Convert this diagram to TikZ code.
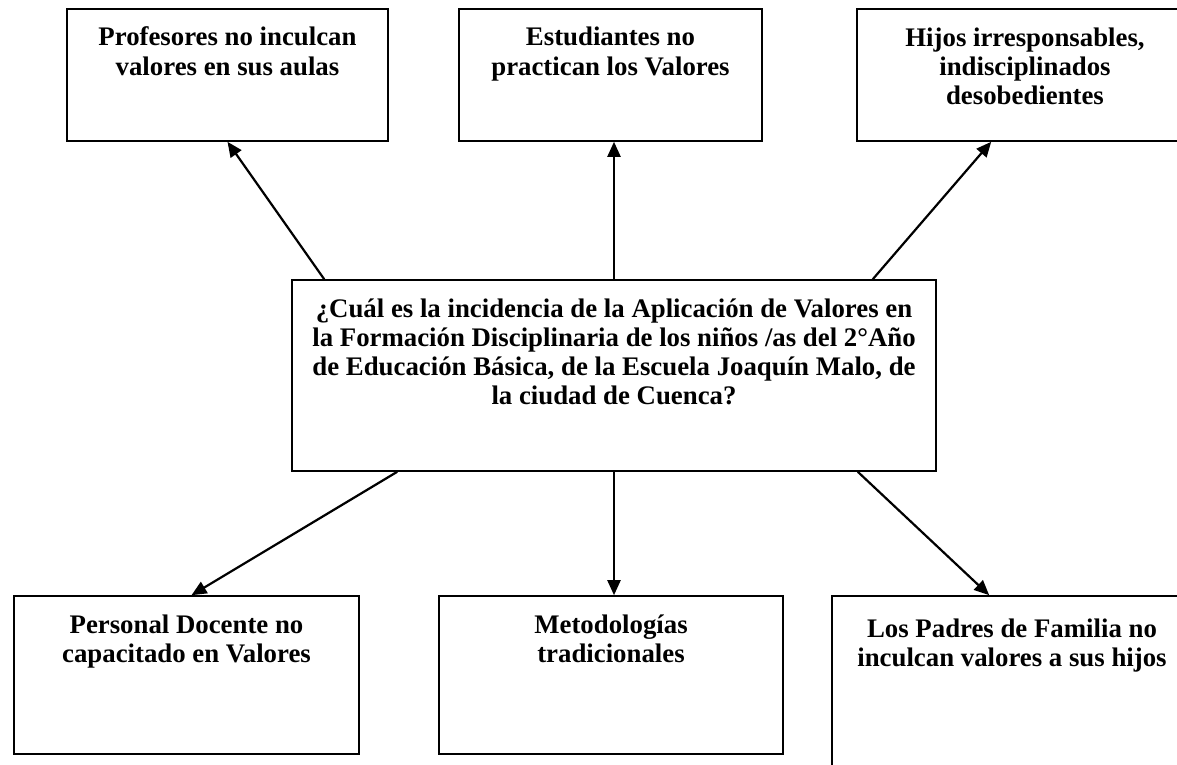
\documentclass[tikz,border=0pt]{standalone}
\usepackage{fontspec}
\setmainfont{Liberation Serif}
\usetikzlibrary{arrows.meta}
\newcommand\boxtxt[5]{\parbox[c][#2][t]{#1}{\fontsize{26.8}{#4}\selectfont\bfseries\centering\rule{0pt}{#3}#5\par}}
\tikzset{
  card/.style={draw, line width=1.6pt, inner sep=0pt, rectangle},
  link/.style={line width=2.2pt, -{Triangle[length=15pt,width=13pt]}}
}
\begin{document}
\begin{tikzpicture}[x=1pt,y=-1pt]
\clip (0,0) rectangle (1177,765);
\fill[white] (0,0) rectangle (1177,765);
\node[card] (b1) at (227.5,75) {\boxtxt{321pt}{132pt}{37pt}{30pt}{Profesores no inculcan\\valores en sus aulas}};
\node[card] (b2) at (610.5,75) {\boxtxt{303pt}{132pt}{37pt}{30pt}{Estudiantes no\\practican los Valores}};
\node[card] (b3) at (1025,75) {\boxtxt{336pt}{132pt}{38pt}{29pt}{Hijos irresponsables,\\indisciplinados\\desobedientes}};
\node[card] (c) at (614,375.5) {\boxtxt{644pt}{191pt}{37pt}{29.3pt}{¿Cuál es la incidencia de la Aplicación de Valores en\\la Formación Disciplinaria de los niños /as del 2°Año\\de Educación Básica, de la Escuela Joaquín Malo, de\\la ciudad de Cuenca?}};
\node[card] (b4) at (186.5,675) {\boxtxt{345pt}{158pt}{37pt}{29.5pt}{Personal Docente no\\capacitado en Valores}};
\node[card] (b5) at (611,675) {\boxtxt{344pt}{158pt}{37pt}{29.5pt}{Metodologías\\tradicionales}};
\node[card] (b6) at (1012,698) {\boxtxt{360pt}{204pt}{41pt}{29.5pt}{Los Padres de Familia no\\inculcan valores a sus hijos}};
\draw[link] ([xshift=33pt]c.north west) -- (b1.south);
\draw[link] (c.north) -- (c.north |- b2.south);
\draw[link] ([xshift=-64pt]c.north east) -- ([xshift=135pt]b3.south west);
\draw[link] ([xshift=106pt]c.south west) -- ([xshift=5pt]b4.north);
\draw[link] (c.south) -- (c.south |- b5.north);
\draw[link] ([xshift=-79pt]c.south east) -- ([xshift=158pt]b6.north west);
\end{tikzpicture}
\end{document}
